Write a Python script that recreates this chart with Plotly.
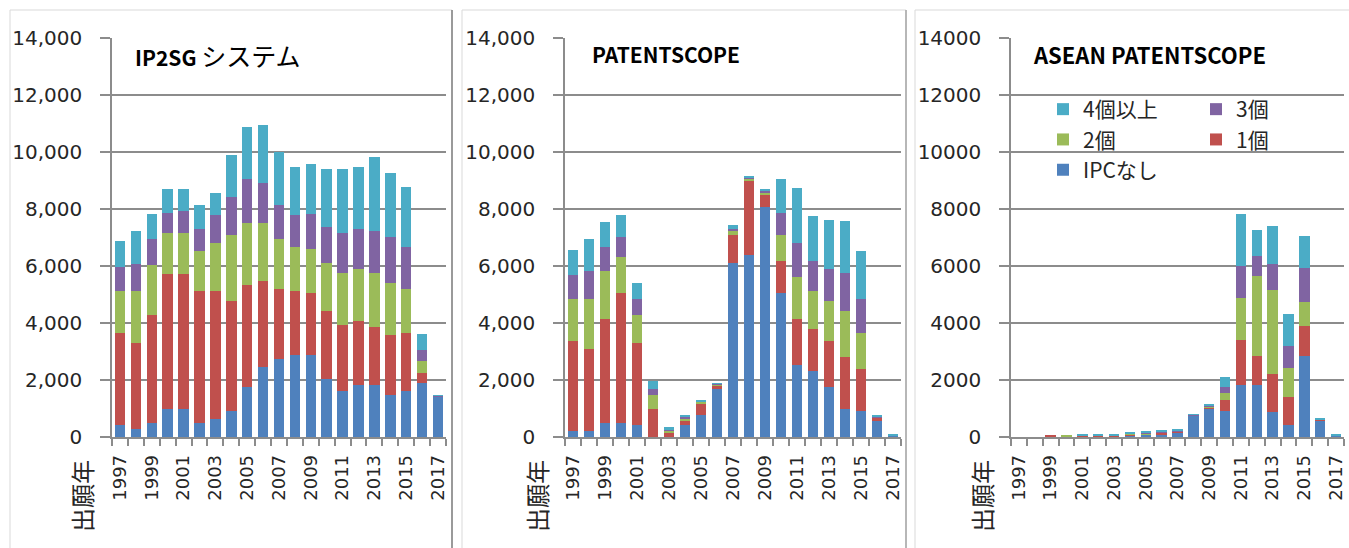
import plotly.graph_objects as go

W, H = 1349, 548

years = list(range(1997, 2018))
tick_years = list(range(1997, 2018, 2))

series_names = ["IPCなし", "1個", "2個", "3個", "4個以上"]
colors = ["#4F81BD", "#C0504D", "#9BBB59", "#8064A2", "#4BACC6"]

# IP2SG system
ip2sg_none = [410, 270, 490, 980, 980, 490, 620, 900, 1740, 2460, 2730, 2870, 2870, 2020, 1600, 1810, 1810, 1460, 1600, 1880, 1420]
ip2sg_1 = [3240, 3030, 3780, 4750, 4750, 4620, 4490, 3860, 3590, 3010, 2460, 2250, 2180, 2390, 2320, 2250, 2040, 2110, 2040, 350, 0]
ip2sg_2 = [1460, 1810, 1760, 1420, 1420, 1420, 1690, 2320, 2170, 2040, 1760, 1540, 1530, 1690, 1830, 1830, 1900, 1830, 1540, 420, 10]
ip2sg_3 = [850, 970, 910, 710, 770, 770, 980, 1330, 1540, 1400, 1190, 1120, 1260, 1260, 1400, 1400, 1470, 1610, 1470, 420, 10]
ip2sg_4 = [900, 1140, 900, 830, 770, 830, 770, 1480, 1840, 2040, 1850, 1680, 1750, 2040, 2250, 2180, 2600, 2250, 2110, 560, 30]

# PATENTSCOPE
ps_none = [210, 210, 480, 480, 410, 0, 0, 410, 760, 1680, 6110, 6390, 8080, 5060, 2520, 2310, 1750, 970, 900, 550, 60]
ps_1 = [3160, 2870, 3660, 4580, 2890, 970, 130, 140, 420, 140, 990, 2600, 420, 1130, 1620, 1480, 1620, 1830, 1480, 120, 10]
ps_2 = [1480, 1760, 1690, 1270, 990, 490, 100, 90, 50, 20, 140, 70, 70, 910, 1480, 1340, 1410, 1620, 1270, 20, 0]
ps_3 = [840, 990, 840, 700, 560, 210, 50, 70, 20, 20, 70, 20, 70, 770, 1200, 1060, 1130, 1340, 1200, 20, 0]
ps_4 = [860, 1130, 860, 770, 560, 310, 70, 60, 40, 20, 140, 70, 70, 1200, 1900, 1550, 1690, 1830, 1690, 50, 20]

# ASEAN PATENTSCOPE
as_none = [0, 0, 0, 0, 30, 30, 30, 40, 80, 70, 170, 740, 1000, 930, 1840, 1840, 860, 430, 2830, 570, 60]
as_1 = [0, 0, 80, 0, 10, 10, 10, 60, 20, 80, 20, 20, 50, 360, 1550, 990, 1340, 990, 1060, 40, 10]
as_2 = [0, 0, 0, 60, 10, 10, 10, 10, 10, 20, 10, 10, 20, 270, 1480, 2820, 2960, 990, 840, 0, 0]
as_3 = [0, 0, 0, 0, 10, 10, 10, 10, 60, 30, 40, 10, 20, 210, 1130, 700, 910, 770, 1200, 20, 0]
as_4 = [0, 0, 0, 0, 30, 30, 30, 30, 10, 50, 10, 20, 50, 350, 1830, 920, 1340, 1130, 1130, 30, 20]

panels = [
    [ip2sg_none, ip2sg_1, ip2sg_2, ip2sg_3, ip2sg_4],
    [ps_none, ps_1, ps_2, ps_3, ps_4],
    [as_none, as_1, as_2, as_3, as_4],
]

def px(x):
    return x / W

def py(y):
    return 1 - y / H

x_domains = [(112, 446), (565, 901), (1011, 1344)]
y_domain = [py(437), py(38)]
legend_of = ["legend", "legend2", "legend", "legend2", "legend"]

fig = go.Figure()
for p, series in enumerate(panels):
    ax = "" if p == 0 else str(p + 1)
    for k, vals in enumerate(series):
        fig.add_trace(go.Bar(
            x=years, y=vals, name=series_names[k],
            marker=dict(color=colors[k], line=dict(width=0)),
            xaxis="x" + ax, yaxis="y" + ax,
            showlegend=(p == 2), legend=legend_of[k],
        ))

grid_c = "#8c8c8c"
layout = dict(
    width=W, height=H, barmode="stack", bargap=0.34,
    margin=dict(l=0, r=0, t=0, b=0, autoexpand=False),
    paper_bgcolor="white", plot_bgcolor="white",
    font=dict(family="DejaVu Sans", color="#262626"),
)
for p in range(3):
    ax = "" if p == 0 else str(p + 1)
    d0, d1 = x_domains[p]
    layout["xaxis" + ax] = dict(
        domain=[px(d0), px(d1)], range=[1996.5, 2017.5], type="linear",
        tickvals=tick_years, ticktext=[str(t) for t in tick_years],
        tickangle=-90, ticks="outside", ticklen=9, tickcolor="rgba(0,0,0,0)",
        tickfont=dict(size=18, color="#262626"), ticklabeloverflow="allow",
        minor=dict(tick0=1996.5, dtick=1, ticks="outside", ticklen=7, tickcolor=grid_c, tickwidth=1.5, showgrid=False),
        showline=True, linecolor=grid_c, linewidth=1.5, showgrid=False, zeroline=False,
        anchor="y" + ax, fixedrange=True, automargin=False,
    )
    layout["yaxis" + ax] = dict(
        domain=y_domain, range=[0, 14000], dtick=2000,
        tickformat=",d" if p < 2 else "d",
        ticks="outside", ticklen=10, tickcolor=grid_c, tickwidth=1.5,
        ticklabelstandoff=14,
        tickfont=dict(size=20, color="#262626"),
        showline=True, linecolor=grid_c, linewidth=1.5,
        showgrid=True, gridcolor=grid_c, gridwidth=1.5, zeroline=False,
        anchor="x" + ax, fixedrange=True, automargin=False,
    )

leg_common = dict(
    xanchor="left", yanchor="top", traceorder="reversed",
    font=dict(family="Noto Sans CJK JP", size=21, color="#262626"),
    bgcolor="rgba(0,0,0,0)", tracegroupgap=0, itemclick=False,
)
layout["legend"] = dict(x=px(1043), y=py(89), **leg_common)
layout["legend2"] = dict(x=px(1196), y=py(89), **leg_common)

shapes = []
frames = [(10, 452, "#7f7f7f"), (462, 906, "#a6a6a6"), (915, 1360, "#d9d9d9")]
for x0, x1, rc in frames:
    shapes.append(dict(type="rect", xref="paper", yref="paper", x0=px(x0), x1=px(x1), y0=-0.05, y1=py(10),
                       line=dict(color="#d9d9d9", width=1), layer="below"))
    shapes.append(dict(type="line", xref="paper", yref="paper", x0=px(x1), x1=px(x1), y0=-0.05, y1=py(10),
                       line=dict(color=rc, width=1.5), layer="below"))
layout["shapes"] = shapes

title_font = dict(family="Noto Sans CJK JP", size=21, color="black")
annotations = [
    dict(text="<b>IP2SG</b> <span style='font-size:25px'>システム</span>", x=px(133), y=py(55)),
    dict(text="<b>PATENTSCOPE</b>", x=px(590), y=py(54)),
    dict(text="<span style='font-size:22px'><b>ASEAN PATENTSCOPE</b></span>", x=px(1031), y=py(54)),
]
for a in annotations:
    a.update(xref="paper", yref="paper", xanchor="left", yanchor="middle", showarrow=False, font=title_font)
for cx in (81, 536, 981):
    annotations.append(dict(text="出願年", x=px(cx), y=py(496), xref="paper", yref="paper",
                            textangle=-90, showarrow=False, xanchor="center", yanchor="middle",
                            font=dict(family="Noto Sans CJK JP", size=24, color="#262626")))
layout["annotations"] = annotations

fig.update_layout(**layout)
fig.write_html("out.html", config={"displayModeBar": False},
               post_script="document.body.style.margin='0';document.body.style.overflow='hidden';")
